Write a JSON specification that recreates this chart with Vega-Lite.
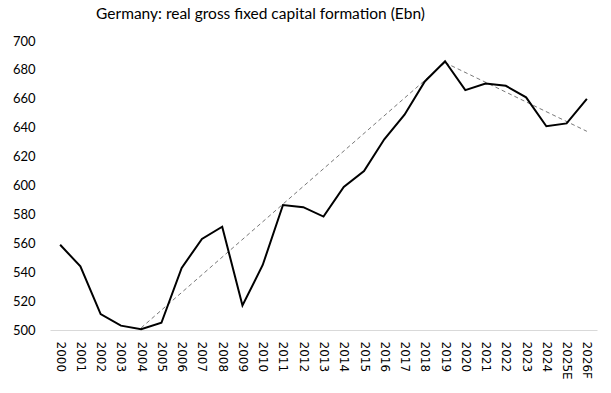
{
  "$schema": "https://vega.github.io/schema/vega-lite/v6.json",
  "width": 547,
  "height": 289,
  "autosize": {"type": "none"},
  "padding": {"left": 50, "top": 41, "right": 14, "bottom": 63},
  "background": "white",
  "title": {
    "text": "Germany: real gross fixed capital formation (Ebn)",
    "font": "Lato",
    "fontSize": 15.5,
    "fontWeight": "normal",
    "color": "#000000",
    "anchor": "middle",
    "dx": -63,
    "offset": 13
  },
  "config": {"view": {"stroke": null}},
  "datasets": {
    "gfcf": [
      {"year": "2000", "value": 559},
      {"year": "2001", "value": 544},
      {"year": "2002", "value": 511},
      {"year": "2003", "value": 503},
      {"year": "2004", "value": 500.5},
      {"year": "2005", "value": 505},
      {"year": "2006", "value": 543},
      {"year": "2007", "value": 563},
      {"year": "2008", "value": 571.5},
      {"year": "2009", "value": 517},
      {"year": "2010", "value": 545},
      {"year": "2011", "value": 586.5},
      {"year": "2012", "value": 585},
      {"year": "2013", "value": 578.5},
      {"year": "2014", "value": 599},
      {"year": "2015", "value": 610},
      {"year": "2016", "value": 632},
      {"year": "2017", "value": 649},
      {"year": "2018", "value": 672},
      {"year": "2019", "value": 686},
      {"year": "2020", "value": 666},
      {"year": "2021", "value": 670.5},
      {"year": "2022", "value": 669},
      {"year": "2023", "value": 661},
      {"year": "2024", "value": 641},
      {"year": "2025E", "value": 643},
      {"year": "2026F", "value": 660}
    ],
    "trend": [
      {"year": "2004", "value": 501.5, "segment": "up"},
      {"year": "2019", "value": 685, "segment": "up"},
      {"year": "2019", "value": 685, "segment": "down"},
      {"year": "2026F", "value": 637.5, "segment": "down"}
    ]
  },
  "encoding": {
    "x": {
      "field": "year",
      "type": "ordinal",
      "scale": {"domain": ["2000","2001","2002","2003","2004","2005","2006","2007","2008","2009","2010","2011","2012","2013","2014","2015","2016","2017","2018","2019","2020","2021","2022","2023","2024","2025E","2026F"]},
      "axis": {
        "title": null,
        "labelAngle": 90,
        "labelAlign": "left",
        "labelBaseline": "middle",
        "labelFont": "DejaVu Sans",
        "labelFontSize": 12,
        "labelColor": "#000000",
        "labelPadding": 11,
        "ticks": false,
        "domainColor": "#d9d9d9",
        "domainWidth": 1,
        "grid": false
      }
    },
    "y": {
      "field": "value",
      "type": "quantitative",
      "scale": {"domain": [500, 700], "nice": false, "zero": false},
      "axis": {
        "title": null,
        "values": [500,520,540,560,580,600,620,640,660,680,700],
        "labelFont": "Lato",
        "labelFontSize": 13,
        "labelColor": "#000000",
        "labelPadding": 15,
        "ticks": false,
        "domain": false,
        "grid": false
      }
    }
  },
  "layer": [
    {
      "data": {"name": "trend"},
      "mark": {"type": "line", "color": "#555555", "strokeWidth": 0.8, "strokeDash": [4, 3]},
      "encoding": {"detail": {"field": "segment"}}
    },
    {
      "data": {"name": "gfcf"},
      "mark": {"type": "line", "color": "#000000", "strokeWidth": 2}
    }
  ]
}
